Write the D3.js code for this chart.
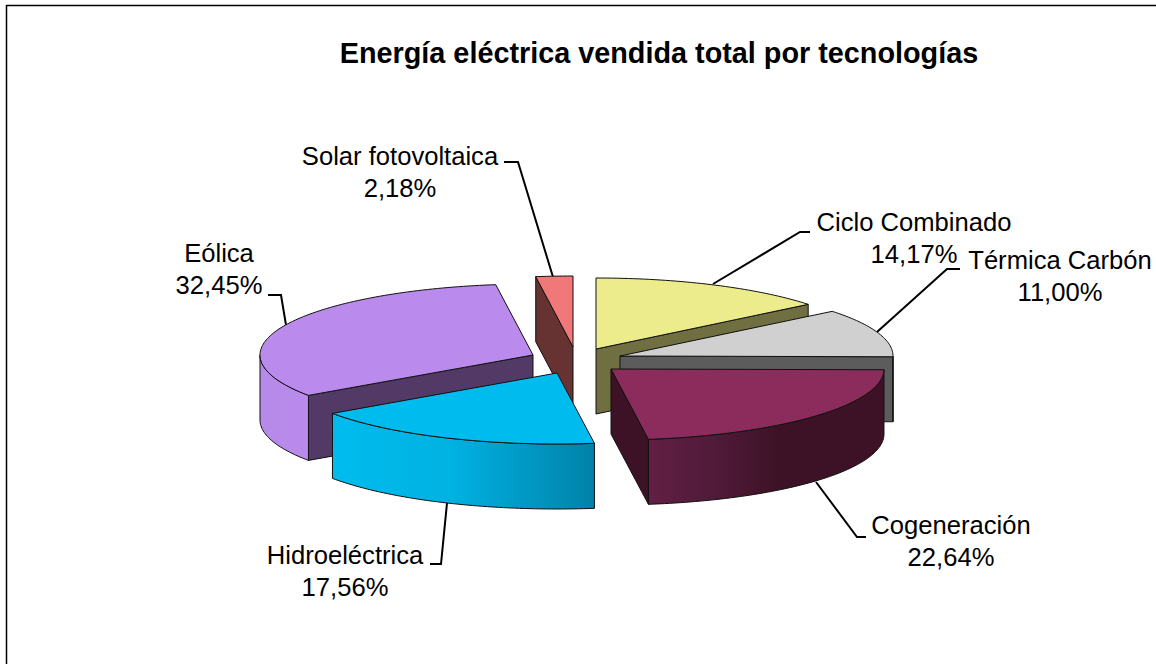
<!DOCTYPE html>
<html><head><meta charset="utf-8">
<script src="https://cdn.jsdelivr.net/npm/d3@7"></script>
<style>html,body{margin:0;padding:0;background:#fff}svg{display:block}text{font-family:"Liberation Sans",Arial,sans-serif;fill:#000}</style>
</head><body><svg id="c" width="1156" height="664"></svg>
<script>
// Data
const categories = ["Ciclo Combinado","Térmica Carbón","Cogeneración","Hidroeléctrica","Eólica","Solar fotovoltaica"];
const shares = [14.17,11.00,22.64,17.56,32.45,2.18];
const shareLabels = ["14,17%","11,00%","22,64%","17,56%","32,45%","2,18%"];
const chartTitle = "Energía eléctrica vendida total por tecnologías";

// Layout and style
const W=1156,H=664,RX=273,RY=71,DEPTH=65;
const apex=[[596,349],[620,356],[611,369],[557,373],[533,355],[573,347]];
const topColors=["#ecec8c","#d0d0d0","#8c2c5c","#00bcee","#ba8aec","#f07878"];
const faceColors=["#6f6f42","#5c5c5c","#3d1226","#00bcee","#533a66","#663232"];
const outerStops=[
  [["0","#6f6f42"],["1","#6f6f42"]],
  [["0","#5c5c5c"],["1","#5c5c5c"]],
  [["0","#611f44"],["0.3","#4f1a38"],["0.55","#3d1226"],["1","#3d1226"]],
  [["0","#00bcee"],["0.45","#00b2e2"],["1","#0082a8"]],
  [["0","#b68ae8"],["1","#ba8aec"]],
  [["0","#663232"],["1","#663232"]]
];
const drawOrder=[0,5,4,1,3,2];
const labelLayout=[
  {x:914,y:[231,263]},{x:1060,y:[269,301]},{x:951,y:[534,566]},
  {x:345,y:[564,596]},{x:219,y:[262,294]},{x:400,y:[165,197]}
];
const leaders=[
  [[810,232],[800,232],[713,284]],
  [[960,269],[947,269],[877,332]],
  [[816,482],[857,537],[866,537]],
  [[447,503],[441,564],[430,564]],
  [[268,295],[281,295],[286,325]],
  [[504,162],[518,162],[553,277]]
];

const svg=d3.select("#c");
const defs=svg.append("defs");
svg.append("path").attr("d","M6.5,664V5.5H1156").attr("fill","none").attr("stroke","#000").attr("stroke-width",1.5);

svg.append("text").attr("x",659).attr("y",63).attr("text-anchor","middle")
  .attr("font-size",28.8).attr("font-weight","bold").text(chartTitle);

const line=d3.line();
svg.append("g").selectAll("path").data(leaders).join("path")
  .attr("d",line).attr("fill","none").attr("stroke","#000").attr("stroke-width",2);

const arcs=d3.pie().sort(null).value(d=>d)(shares);
const pt=(i,a,dz=0)=>[apex[i][0]+RX*Math.sin(a),apex[i][1]-RY*Math.cos(a)+dz];
function arcPts(i,a0,a1,dz){
  const n=Math.max(2,Math.ceil(Math.abs(a1-a0)/0.02));
  return d3.range(n+1).map(k=>pt(i,a0+(a1-a0)*k/n,dz));
}
const closed=d3.line().curve(d3.curveLinearClosed);
const g=svg.append("g");
const edge={stroke:"#111","stroke-width":1,"stroke-linejoin":"round"};
const style=s=>{for(const k in edge)s.attr(k,edge[k]);return s;};

drawOrder.forEach(i=>{
  const a=arcs[i],s=g.append("g").attr("class","slice");
  const a0=a.startAngle,a1=a.endAngle;
  const ax=apex[i];
  // radial wall on the start edge (seen when the edge points left)
  if(Math.sin(a0)<-1e-6){
    const p=pt(i,a0);
    style(s.append("path")).attr("fill",faceColors[i])
      .attr("d",closed([ax,p,[p[0],p[1]+DEPTH],[ax[0],ax[1]+DEPTH]]));
  }
  // radial wall on the end edge (seen when the edge points right)
  if(Math.sin(a1)>1e-6){
    const p=pt(i,a1);
    style(s.append("path")).attr("fill",faceColors[i])
      .attr("d",closed([ax,p,[p[0],p[1]+DEPTH],[ax[0],ax[1]+DEPTH]]));
  }
  // curved outer wall: the part of the rim facing the viewer
  const lo=Math.max(a0,Math.PI/2),hi=Math.min(a1,3*Math.PI/2);
  if(hi>lo){
    const up=arcPts(i,lo,hi,0),down=arcPts(i,hi,lo,DEPTH);
    const xs=up.map(d=>d[0]);
    const id="grad"+i;
    const gr=defs.append("linearGradient").attr("id",id).attr("gradientUnits","userSpaceOnUse")
      .attr("x1",d3.min(xs)).attr("x2",d3.max(xs)).attr("y1",0).attr("y2",0);
    outerStops[i].forEach(st=>gr.append("stop").attr("offset",st[0]).attr("stop-color",st[1]));
    style(s.append("path")).attr("fill",`url(#${id})`).attr("d",closed(up.concat(down)));
  }
  // top face
  style(s.append("path")).attr("fill",topColors[i])
    .attr("d",closed([ax].concat(arcPts(i,a0,a1,0))));
});

const lab=svg.append("g");
categories.forEach((c,i)=>{
  const l=labelLayout[i];
  const t=lab.append("text").attr("text-anchor","middle").attr("font-size",25.6);
  t.append("tspan").attr("x",l.x).attr("y",l.y[0]).text(c);
  t.append("tspan").attr("x",l.x).attr("y",l.y[1]).text(shareLabels[i]);
});
</script></body></html>
